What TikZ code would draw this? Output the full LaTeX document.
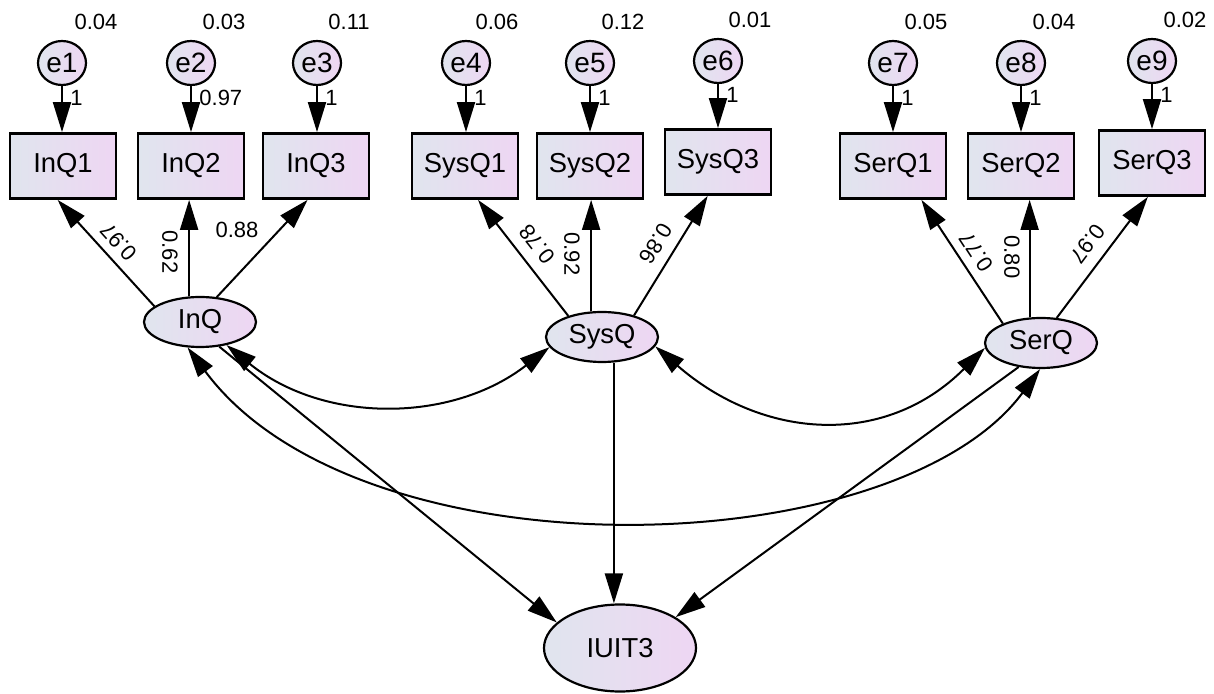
\documentclass[tikz,border=0pt]{standalone}
\usepackage{fontspec}
\setmainfont{Liberation Sans}
\usetikzlibrary{arrows.meta,shapes.geometric}
\definecolor{fillL}{RGB}{224,229,238}
\definecolor{fillR}{RGB}{238,214,243}
\newcommand\mynodefont{\fontsize{13.7}{16}\selectfont}
\newcommand\myerrfont{\fontsize{14}{16}\selectfont}
\newcommand\mylblfont{\fontsize{11}{13}\selectfont}
\tikzset{
  obs/.style={draw, line width=1.4pt, minimum width=53pt, minimum height=32.5pt, inner sep=0pt,
    left color=fillL, right color=fillR, font=\mynodefont},
  lat/.style={ellipse, draw, line width=1.1pt, minimum width=56pt, minimum height=25pt, inner sep=0pt,
    left color=fillL, right color=fillR, font=\mynodefont},
  err/.style={ellipse, draw, line width=1.1pt, minimum width=24pt, minimum height=22pt, inner sep=0pt,
    left color=fillL, right color=fillR, font=\myerrfont},
  arr/.style={line width=1pt, -{Triangle[length=15pt,width=9pt]}},
  cov/.style={line width=1pt, {Triangle[length=15pt,width=9pt]}-{Triangle[length=15pt,width=9pt]}},
  lbl/.style={font=\mylblfont, inner sep=0pt},
  onelbl/.style={font=\mylblfont, inner sep=0pt, anchor=west}
}
\begin{document}
\begin{tikzpicture}[x=0.5pt,y=-0.5pt]
\useasboundingbox (0,0) rectangle (1214,694);

% error terms
\node[err] (e1) at (62,63) {e1};
\node[err] (e2) at (191,63) {e2};
\node[err] (e3) at (317,63) {e3};
\node[err] (e4) at (466,63) {e4};
\node[err] (e5) at (590,63) {e5};
\node[err] (e6) at (718,61) {e6};
\node[err] (e7) at (893,63) {e7};
\node[err] (e8) at (1021,63) {e8};
\node[err] (e9) at (1152,61) {e9};

% observed
\node[obs] (InQ1) at (63,166) {InQ1};
\node[obs] (InQ2) at (191,166) {InQ2};
\node[obs] (InQ3) at (316,166) {InQ3};
\node[obs] (SysQ1) at (465,166) {SysQ1};
\node[obs] (SysQ2) at (590,166) {SysQ2};
\node[obs] (SysQ3) at (718,162) {SysQ3};
\node[obs] (SerQ1) at (893,166) {SerQ1};
\node[obs] (SerQ2) at (1021,166) {SerQ2};
\node[obs] (SerQ3) at (1152,163) {SerQ3};

% latent
\node[lat] (InQ) at (200,322) {InQ};
\node[lat] (SysQ) at (602,337) {SysQ};
\node[lat] (SerQ) at (1041,343) {SerQ};
\node[lat, minimum width=76pt, minimum height=43.5pt] (IUIT3) at (620,648) {IUIT3};

% error arrows
\foreach \e/\o in {e1/InQ1,e2/InQ2,e3/InQ3,e4/SysQ1,e5/SysQ2,e6/SysQ3,e7/SerQ1,e8/SerQ2,e9/SerQ3}
  \draw[arr] (\e.south) -- (\e.south |- \o.north);

% variances
\node[lbl] at (96,22) {0.04};
\node[lbl] at (224,22) {0.03};
\node[lbl] at (349,22) {0.11};
\node[lbl] at (497,22) {0.06};
\node[lbl] at (623,22) {0.12};
\node[lbl] at (750,20) {0.01};
\node[lbl] at (926,22) {0.05};
\node[lbl] at (1054,22) {0.04};
\node[lbl] at (1185,20) {0.02};

% error path labels
\node[onelbl] at (70,98) {1};
\node[onelbl] at (199,98) {0.97};
\node[onelbl] at (325,98) {1};
\node[onelbl] at (474,98) {1};
\node[onelbl] at (598,98) {1};
\node[onelbl] at (726,95) {1};
\node[onelbl] at (901,98) {1};
\node[onelbl] at (1029,98) {1};
\node[onelbl] at (1160,95) {1};

% loadings
\draw[arr] (InQ.161) -- (InQ1.-99);
\draw[arr] (InQ.113) -- (InQ.113 |- InQ2.south);
\draw[arr] (InQ.56) -- (InQ3.-104);
\draw[arr] (SysQ.148) -- (SysQ1.-69);
\draw[arr] (SysQ.113) -- (SysQ.113 |- SysQ2.south);
\draw[arr] (SysQ.34) -- (SysQ3.-107);
\draw[arr] (SerQ.153) -- (SerQ1.-50);
\draw[arr] (SerQ.114) -- (SerQ.114 |- SerQ2.south);
\draw[arr] (SerQ.58) -- (SerQ3.-97);

% loading labels
\node[lbl, rotate=132] at (119,242) {0.97};
\node[lbl, rotate=-90] at (170,252) {0.62};
\node[lbl] at (237,230) {0.88};
\node[lbl, rotate=128] at (537,244) {0.78};
\node[lbl, rotate=-90] at (572,254) {0.92};
\node[lbl, rotate=-121] at (656,244) {0.86};
\node[lbl, rotate=123] at (976,252) {0.77};
\node[lbl, rotate=-90] at (1012,257) {0.80};
\node[lbl, rotate=-127] at (1088,244) {0.97};

% covariances
\draw[cov] (InQ.-41) .. controls (324,424) and (452,423) .. (SysQ.191);
\draw[cov] (SysQ.-10) .. controls (763,440) and (885,448) .. (SerQ.185);
\draw[cov] (InQ.-116) .. controls (360,580) and (895,565) .. (SerQ.-92);

% regressions
\draw[arr] (InQ.-52) -- (IUIT3.158);
\draw[arr] (SysQ.-65) -- (SysQ.-65 |- IUIT3.north);
\draw[arr] (SerQ.-133) -- (IUIT3.29);
\end{tikzpicture}
\end{document}
